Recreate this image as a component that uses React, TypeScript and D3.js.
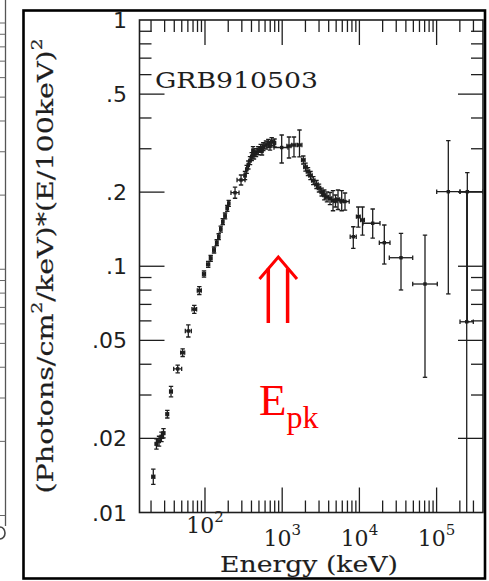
import React, { useEffect } from "react";
import * as d3 from "d3";

// ---- data ----
const energy = [21.4, 23.5, 25.4, 27.3, 29.0, 32.5, 36.3, 44.3, 51.4, 60.8, 72.7, 84.4, 97.1, 110, 118.5, 131, 142, 150.5, 160, 170, 182, 194.5, 203, 245, 293, 330, 347, 364, 383, 403, 419, 431, 458, 490, 527, 547, 569, 617, 661, 695, 731, 795, 985, 1225, 1421, 1675, 1876, 2004, 2159, 2326, 2528, 2782, 2998, 3249, 3510, 3804, 4161, 4550, 4901, 5284, 5899, 6509, 8337, 9679, 10970, 14870, 21020, 34580, 70740, 141800, 249900, 245500];
const energyLo = [20.5, 22.6, 24.4, 26.2, 27.8, 31.2, 34.8, 39.3, 48.4, 55.6, 67.8, 79.5, 92.9, 105, 114, 126, 137, 146, 155, 165, 176, 188, 197, 217, 260, 320, 336, 353, 371, 390, 406, 418, 444, 475, 511, 530, 552, 598, 641, 674, 700, 771, 783, 1150, 1330, 1580, 1780, 1900, 2050, 2210, 2400, 2640, 2850, 3090, 3340, 3620, 3960, 4330, 4660, 5020, 5600, 5740, 7600, 9150, 10370, 11140, 18110, 24400, 49030, 100300, 201000, 201000];
const energyHi = [22.4, 24.4, 26.4, 28.4, 30.2, 33.8, 37.8, 49.9, 54.6, 66.5, 77.9, 89.6, 101.5, 115, 123, 136, 147, 155, 165, 175, 188, 201, 209, 276, 330, 340, 358, 375, 395, 416, 432, 444, 472, 505, 543, 564, 586, 636, 681, 717, 764, 820, 1189, 1300, 1510, 1800, 1980, 2110, 2270, 2450, 2660, 2930, 3150, 3420, 3690, 4000, 4380, 4780, 5150, 5560, 6200, 7380, 9100, 10240, 11600, 18490, 24910, 49030, 102100, 201000, 399000, 298800];
const flux = [0.01397, 0.0190, 0.0195, 0.0203, 0.0210, 0.0251, 0.0310, 0.0383, 0.0446, 0.0546, 0.0669, 0.0797, 0.0930, 0.1018, 0.1077, 0.1164, 0.1246, 0.1318, 0.1416, 0.1517, 0.1600, 0.1719, 0.1801, 0.1989, 0.2240, 0.2336, 0.2475, 0.2577, 0.2684, 0.2786, 0.2951, 0.2830, 0.2891, 0.2945, 0.3013, 0.2938, 0.3058, 0.3107, 0.3157, 0.3077, 0.3205, 0.3166, 0.3035, 0.3077, 0.3107, 0.3107, 0.2701, 0.2529, 0.2425, 0.2336, 0.2229, 0.2148, 0.2078, 0.2002, 0.1947, 0.1911, 0.1884, 0.1849, 0.1841, 0.1866, 0.1841, 0.1832, 0.1318, 0.1590, 0.1541, 0.1495, 0.1246, 0.1083, 0.0847, 0.2008, 0.2008, 0.0595];
const fluxLo = [0.0130, 0.0181, 0.0186, 0.0194, 0.0201, 0.0242, 0.0295, 0.0369, 0.0430, 0.0516, 0.0644, 0.0768, 0.0904, 0.0990, 0.1047, 0.1132, 0.1212, 0.1282, 0.1377, 0.1475, 0.1556, 0.1671, 0.1751, 0.1889, 0.2138, 0.2250, 0.2384, 0.2483, 0.2586, 0.2684, 0.2843, 0.2726, 0.2785, 0.2837, 0.2903, 0.2830, 0.2946, 0.2993, 0.3041, 0.2964, 0.3088, 0.3050, 0.2626, 0.2752, 0.2780, 0.2780, 0.2602, 0.2436, 0.2336, 0.2250, 0.2147, 0.2069, 0.2002, 0.1929, 0.1859, 0.1824, 0.1780, 0.1680, 0.1740, 0.1700, 0.1680, 0.1690, 0.1183, 0.1443, 0.1339, 0.1302, 0.1021, 0.0801, 0.0354, 0.0772, 0.0595, 0.005];
const fluxHi = [0.0150, 0.0199, 0.0204, 0.0212, 0.0219, 0.0260, 0.0325, 0.0397, 0.0462, 0.0578, 0.0694, 0.0827, 0.0957, 0.1047, 0.1108, 0.1197, 0.1281, 0.1355, 0.1456, 0.1560, 0.1645, 0.1768, 0.1852, 0.2094, 0.2347, 0.2425, 0.2569, 0.2675, 0.2786, 0.2892, 0.3063, 0.2938, 0.3001, 0.3057, 0.3128, 0.3050, 0.3174, 0.3225, 0.3277, 0.3194, 0.3327, 0.3287, 0.3412, 0.3349, 0.3349, 0.3575, 0.2804, 0.2625, 0.2517, 0.2425, 0.2314, 0.2230, 0.2157, 0.2078, 0.2040, 0.2003, 0.1993, 0.2030, 0.1947, 0.2040, 0.2030, 0.1984, 0.1447, 0.1740, 0.1740, 0.1708, 0.1471, 0.1361, 0.1339, 0.3235, 0.2399, 0.2008];

const yTickValues = [1, 0.5, 0.2, 0.1, 0.05, 0.02, 0.01];
const yTickLabels = ["1", ".5", ".2", ".1", ".05", ".02", ".01"];
const xTickValues = [100, 1000, 10000, 100000];
const xTickExponents = ["2", "3", "4", "5"];
const title = "GRB910503";
const xTitle = "Energy (keV)";

const INK = "#1e1e1e";

export default function App() {
  useEffect(() => {
    document.body.style.margin = "0";
  }, []);

  const L = 139.5, R = 483, T = 20, B = 512.5;
  const x = d3.scaleLog().domain([14.18, 399000]).range([L, R]);
  const y = d3.scaleLog().domain([0.01, 1]).range([B, T]);

  const isMajorY = (v: number) => yTickValues.some((m) => Math.abs(m - v) / m < 1e-6);
  const isMajorX = (v: number) => Math.abs(Math.log10(v) - Math.round(Math.log10(v))) < 1e-6;

  const xt = x.ticks().filter((v) => x(v) > L + 0.5 && x(v) < R - 0.5);
  const yt = y.ticks().filter((v) => y(v) > T + 0.5 && y(v) < B - 0.5);
  const minor = 12, major = 25;

  // fragment of neighbouring panel on the far left
  const fragTicks = y.ticks();

  return (
    <svg width={489} height={581} style={{ position: "absolute", left: 0, top: 0, background: "#fff" }}>
      <rect x={0} y={0} width={489} height={581} fill="#fff" />
      {/* neighbouring panel fragment */}
      <line x1={5.5} x2={5.5} y1={0} y2={526} stroke="#555" strokeWidth={1.3} />
      {fragTicks.map((v, i) => (
        <line key={"f" + i} x1={0} x2={5.5} y1={y(v) + 3} y2={y(v) + 3} stroke="#666" strokeWidth={1} />
      ))}
      <path d="M0,527 A5,6 0 0 1 0,539" fill="none" stroke="#444" strokeWidth={1.6} />

      {/* outer frame */}
      <rect x={23.5} y={10.5} width={461.5} height={568} fill="none" stroke="#000" strokeWidth={2.6} />

      {/* plot box */}
      <rect x={L} y={T} width={R - L} height={B - T} fill="none" stroke={INK} strokeWidth={1.6} />

      {/* x ticks bottom & top */}
      {xt.map((v, i) => {
        const len = isMajorX(v) ? major : minor;
        const px = x(v);
        return (
          <g key={"xt" + i} stroke={INK} strokeWidth={1.3}>
            <line x1={px} x2={px} y1={B} y2={B - len} />
            <line x1={px} x2={px} y1={T} y2={T + len} />
          </g>
        );
      })}
      {/* y ticks left & right */}
      {yt.map((v, i) => {
        const len = isMajorY(v) ? major : minor;
        const py = y(v);
        return (
          <g key={"yt" + i} stroke={INK} strokeWidth={1.3}>
            <line x1={L} x2={L + len} y1={py} y2={py} />
            <line x1={R} x2={R - len} y1={py} y2={py} />
          </g>
        );
      })}

      {/* y tick labels */}
      {yTickValues.map((v, i) => (
        <text key={"yl" + i} x={127} y={y(v) + 8} textAnchor="end" fontFamily="DejaVu Sans" fontSize={22} fill={INK}>
          {yTickLabels[i]}
        </text>
      ))}

      {/* x tick labels */}
      {xTickValues.map((v, i) => (
        <text key={"xl" + i} x={x(v)} y={i === 0 ? 532.5 : 546} textAnchor="middle" fontFamily="DejaVu Serif" fontSize={22} fill={INK}>
          10<tspan fontSize={15} dy={-11}>{xTickExponents[i]}</tspan>
        </text>
      ))}

      {/* axis titles */}
      <text x={220} y={572} fontFamily="DejaVu Serif" fontSize={23} fill={INK} stroke={INK} strokeWidth={0.12} textLength={178} lengthAdjust="spacingAndGlyphs">
        {xTitle}
      </text>
      <text transform="translate(53,266) rotate(-90)" textAnchor="middle" fontFamily="DejaVu Serif" fontSize={23} fill={INK} stroke={INK} strokeWidth={0.2} textLength={455} lengthAdjust="spacingAndGlyphs">
        (Photons/cm<tspan fontSize={15} dy={-11}>2</tspan><tspan dy={11}>/keV)*(E/100keV)</tspan><tspan fontSize={15} dy={-11}>2</tspan>
      </text>

      {/* title */}
      <text x={155} y={87.5} fontFamily="DejaVu Serif" fontSize={23} fill={INK} textLength={163} lengthAdjust="spacingAndGlyphs">
        {title}
      </text>

      {/* data */}
      <defs>
        <clipPath id="plotclip">
          <rect x={L} y={T} width={R - L} height={B - T} />
        </clipPath>
      </defs>
      <g clipPath="url(#plotclip)" stroke={INK} strokeWidth={1.3} fill={INK}>
        {energy.map((e, i) => {
          const cx = x(e), cy = y(flux[i]);
          const x0 = x(energyLo[i]), x1 = x(energyHi[i]);
          const y0 = y(fluxHi[i]), y1 = y(fluxLo[i]);
          const c = 2.2;
          return (
            <g key={"p" + i}>
              <line x1={x0} x2={x1} y1={cy} y2={cy} />
              <line x1={cx} x2={cx} y1={y0} y2={y1} />
              <line x1={cx - c} x2={cx + c} y1={y0} y2={y0} />
              <line x1={cx - c} x2={cx + c} y1={y1} y2={y1} />
              <line x1={x0} x2={x0} y1={cy - c} y2={cy + c} />
              <line x1={x1} x2={x1} y1={cy - c} y2={cy + c} />
              <rect x={cx - 1.7} y={cy - 1.7} width={3.4} height={3.4} stroke="none" />
            </g>
          );
        })}
      </g>

      {/* red arrow and label */}
      <g stroke="#ff0000" fill="none" strokeLinecap="butt">
        <path d="M259.5,279 L278.3,257 L297,279" strokeWidth={3} />
        <line x1={268.3} x2={268.3} y1={268.5} y2={323} strokeWidth={3.5} />
        <line x1={287.6} x2={287.6} y1={268.5} y2={323} strokeWidth={3.5} />
      </g>
      <text x={259} y={415} fontFamily="Liberation Serif" fontSize={45} fill="#ff0000">
        E<tspan fontSize={32} dy={13}>pk</tspan>
      </text>
    </svg>
  );
}
